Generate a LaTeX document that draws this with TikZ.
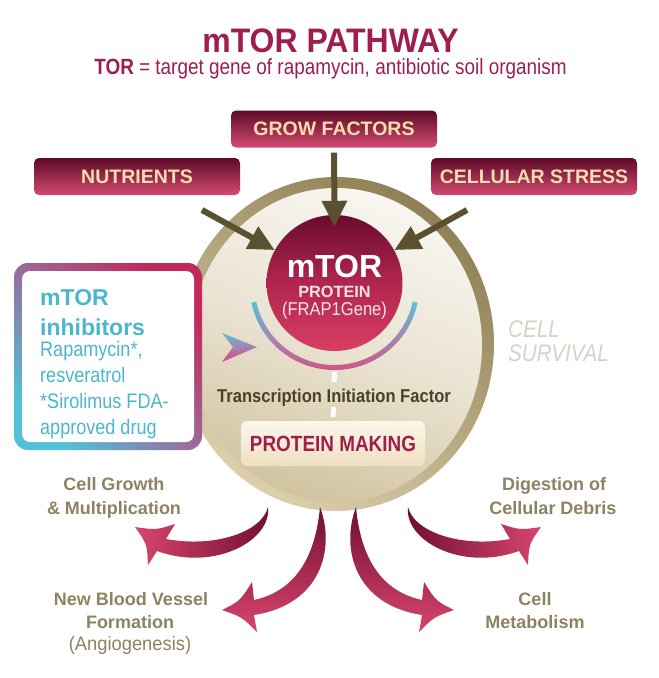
\documentclass[tikz,border=0pt]{standalone}
\usepackage{fontspec}
\setmainfont{Liberation Sans}
\newfontfamily\fA[FakeStretch=0.94]{Liberation Sans}
\newfontfamily\fN[FakeStretch=0.86]{Liberation Sans}
\newfontfamily\fM[FakeStretch=0.89]{Liberation Sans}
\usetikzlibrary{arrows.meta,shapes.geometric}
\definecolor{crim}{HTML}{9E1F4E}
\definecolor{boxtop}{HTML}{5E0A28}
\definecolor{boxbot}{HTML}{D24B70}
\definecolor{cream}{HTML}{F7DCB0}
\definecolor{olv}{HTML}{5B5030}
\definecolor{tanT}{HTML}{8D8360}
\definecolor{survC}{HTML}{D5D2C8}
\definecolor{cyanB}{HTML}{52C0D6}
\definecolor{crimB}{HTML}{C3285A}
\definecolor{purB}{HTML}{9A6A9A}
\definecolor{inhT}{HTML}{4BB6CE}
\definecolor{darkA}{HTML}{6F0F31}
\definecolor{pinkA}{HTML}{D8456E}
\definecolor{tifC}{HTML}{4A4126}
\definecolor{pmTop}{HTML}{FCF7EC}
\definecolor{pmBot}{HTML}{EFDFBF}
\definecolor{ringD}{HTML}{8F8055}
\definecolor{ringL}{HTML}{DCCFAB}
\definecolor{inTop}{HTML}{F8F6F0}
\definecolor{inMid}{HTML}{EAE3D2}
\definecolor{inBot}{HTML}{D2C4A0}
\definecolor{mtTop}{HTML}{6A0C2E}
\definecolor{mtMid}{HTML}{B0264F}
\definecolor{mtBot}{HTML}{D73E64}
\definecolor{protC}{HTML}{F6E3EA}
\definecolor{arcC}{HTML}{58C2DC}
\definecolor{arcP}{HTML}{D84A7A}
\definecolor{arcM}{HTML}{A880B0}
\tikzset{
  topbox/.style={rounded corners=5pt, top color=boxtop, bottom color=boxbot,
    text=cream, font=\bfseries\fontsize{19.5}{22}\selectfont,
    minimum width=206pt, minimum height=37pt, inner sep=0pt},
  feed/.style={draw=olv, line width=6pt, -{Triangle[width=24pt,length=26pt]}},
  outtxt/.style={text=tanT, font=\bfseries\fontsize{18}{20}\selectfont, anchor=base, inner sep=0pt},
  inhbold/.style={text=inhT, font=\bfseries\fontsize{23}{25}\selectfont, anchor=base west, inner sep=0pt},
  inhreg/.style={text=inhT, font=\fN\fontsize{21}{23}\selectfont, anchor=base west, inner sep=0pt},
  survtxt/.style={text=survC, font=\fN\itshape\fontsize{24}{26}\selectfont, anchor=base west, inner sep=0pt},
  outarrowL/.style={left color=pinkA, right color=darkA},
  outarrowR/.style={left color=darkA, right color=pinkA},
  outarrowV/.style={top color=darkA, bottom color=pinkA},
}
\begin{document}
\begin{tikzpicture}[x=1pt,y=-1pt]
\useasboundingbox (0,0) rectangle (659,678);
\fill[white] (0,0) rectangle (659,678);

% title
\node[anchor=base, inner sep=0pt, text=crim, font=\fA\bfseries\fontsize{34}{36}\selectfont] (title) at (330.5,52) {mTOR PATHWAY};
\node[anchor=base, inner sep=0pt, text=crim, font=\fN\fontsize{22}{24}\selectfont] (sub) at (330.5,74) {\textbf{TOR} = target gene of rapamycin, antibiotic soil organism};

% big cell circle
\path[top color=ringD, bottom color=ringL, shading angle=-35] (336,344) ellipse [x radius=158, y radius=167];
\path[top color=inTop, bottom color=inBot, middle color=inMid, shading angle=-20] (336,345) ellipse [x radius=146, y radius=157];

% inhibitors box
\path[top color=crimB, bottom color=cyanB, middle color=purB, shading angle=-45, rounded corners=14pt] (14,263) rectangle (202,450);
\fill[white, rounded corners=8pt] (22,271) rectangle (194,442);
\node[inhbold] (inh1) at (40,305) {mTOR};
\node[inhbold] (inh2) at (40,335) {inhibitors};
\node[inhreg] (inh3) at (40,356) {Rapamycin*,};
\node[inhreg] (inh4) at (40,382) {resveratrol};
\node[inhreg] (inh5) at (40,408) {*Sirolimus FDA-};
\node[inhreg] (inh6) at (40,434) {approved drug};

% top boxes
\node[topbox] (grow) at (334,129) {GROW FACTORS};
\node[topbox] (nut) at (137,176.5) {NUTRIENTS};
\node[topbox] (stress) at (534,176.5) {CELLULAR STRESS};

% mTOR circle
\node[circle, minimum size=136pt, inner sep=0pt, top color=mtTop, bottom color=mtBot, middle color=mtMid] (mtor) at (334.5,283) {};
\node[anchor=base, inner sep=0pt, text=white, font=\bfseries\fontsize{32}{34}\selectfont] (mtorT) at (334.5,277) {mTOR};
\node[anchor=base, inner sep=0pt, text=protC, font=\bfseries\fontsize{16.3}{18}\selectfont] (protT) at (334.5,297) {PROTEIN};
\node[anchor=base, inner sep=0pt, text=protC, font=\fM\fontsize{18.6}{20}\selectfont] (frapT) at (334.5,315) {(FRAP1Gene)};

% feeding arrows
\coordinate (nutA) at (202,210);
\coordinate (strA) at (467,210);
\draw[feed, shorten <=5pt, shorten >=-12pt] (grow.south) -- (mtor.north);
\draw[feed] (nutA) -- (mtor);
\draw[feed] (strA) -- (mtor);

% blue-pink arc under mTOR
\path[shift={(334.5,285)}, top color=arcC, bottom color=arcP, middle color=arcM]
  (12:85) arc[start angle=12, end angle=168, radius=85] -- (168:80) arc[start angle=168, end angle=12, radius=80] -- cycle;
% blue-pink arrowhead
\path[top color=arcC, bottom color=arcP, middle color=arcM] (222,333) -- (257,347) -- (222,362) -- (233,347) -- cycle;

% protein making
\node[rounded corners=6pt, top color=pmTop, bottom color=pmBot, minimum width=184pt, minimum height=45pt, inner sep=0pt,
  text=crim, font=\fN\bfseries\fontsize{22}{24}\selectfont] (pm) at (333,443.5) {PROTEIN MAKING};
\coordinate (arcB) at (334.5,372);
\draw[white, line width=5pt, dash pattern=on 10pt off 25pt] (arcB) -- (pm.north);
\node[anchor=base, inner sep=0pt, text=tifC, font=\fM\bfseries\fontsize{18.6}{20}\selectfont] (tif) at (334,402) {Transcription Initiation Factor};

% cell survival
\node[survtxt] (surv1) at (508,337) {CELL};
\node[survtxt] (surv2) at (508,361) {SURVIVAL};

% output arrows
\path[outarrowL] (268,507) .. controls (262,532) and (215,548) .. (166,539) -- (175,524)
  .. controls (156,530) .. (135,527) .. controls (147,544) .. (148,565) -- (157,551)
  .. controls (215,572) and (272,540) .. (268,507) -- cycle;
\path[outarrowV] (320,507) .. controls (336,550) and (320,605) .. (254,615) -- (257,632)
  .. controls (242,617) .. (222,610) .. controls (240,601) .. (252,582) -- (254,600)
  .. controls (300,590) and (316,550) .. (320,507) -- cycle;
\path[outarrowV] (356,507) .. controls (340,550) and (356,605) .. (422,615) -- (419,632)
  .. controls (434,617) .. (454,610) .. controls (436,601) .. (424,582) -- (422,600)
  .. controls (376,590) and (360,550) .. (356,507) -- cycle;
\path[outarrowR] (408,507) .. controls (414,532) and (461,548) .. (510,539) -- (501,524)
  .. controls (520,530) .. (541,527) .. controls (529,544) .. (528,565) -- (519,551)
  .. controls (461,572) and (404,540) .. (408,507) -- cycle;

% outcome labels
\node[outtxt] (g1) at (114,490) {Cell Growth};
\node[outtxt] (g2) at (114,514) {\& Multiplication};
\node[outtxt] (b1) at (131,605.5) {New Blood Vessel};
\node[outtxt] (b2) at (130,628) {Formation};
\node[anchor=base, inner sep=0pt, text=tanT, font=\fA\fontsize{19.5}{21}\selectfont] (b3) at (130,650.5) {(Angiogenesis)};
\node[outtxt] (d1) at (554,490) {Digestion of};
\node[outtxt] (d2) at (553,514) {Cellular Debris};
\node[outtxt] (m1) at (535,605.5) {Cell};
\node[outtxt] (m2) at (535,628) {Metabolism};
\end{tikzpicture}
\end{document}
